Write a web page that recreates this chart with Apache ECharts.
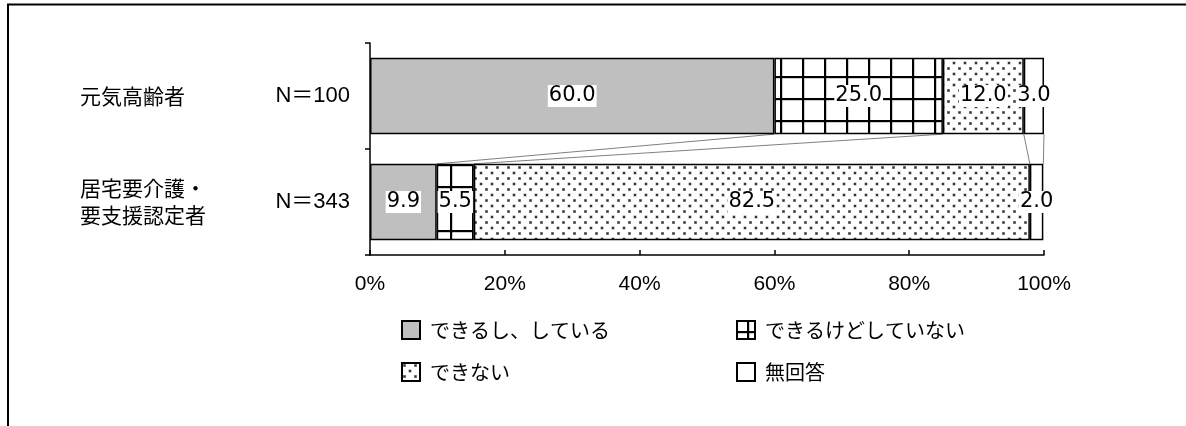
<!DOCTYPE html>
<html>
<head>
<meta charset="utf-8">
<script src="https://cdn.jsdelivr.net/npm/echarts@6/dist/echarts.min.js"></script>
<style>
  html, body { margin: 0; padding: 0; background: #fff; }
  #main { width: 1186px; height: 426px; }
</style>
</head>
<body>
<div id="main"></div>
<script>
var categories = ['元気高齢者', '居宅要介護・\n要支援認定者'];
var nLabels = ['N＝100', 'N＝343'];
var seriesNames = ['できるし、している', 'できるけどしていない', 'できない', '無回答'];
var doing = [60.0, 9.9];
var canButNot = [25.0, 5.5];
var cannot = [12.0, 82.5];
var noAnswer = [3.0, 2.0];
var xTicks = [0, 20, 40, 60, 80, 100];

var JP = '"Noto Sans CJK JP", sans-serif';
var NUM = '"DejaVu Sans", sans-serif';
var AX = '"Liberation Sans", "Noto Sans CJK JP", sans-serif';

function gridPattern() {
    var c = document.createElement('canvas');
    c.width = 22; c.height = 22;
    var ctx = c.getContext('2d');
    ctx.fillStyle = '#fff';
    ctx.fillRect(0, 0, 22, 22);
    ctx.fillStyle = '#000';
    ctx.fillRect(10, 0, 2.2, 22);
    ctx.fillRect(0, 10, 22, 2.2);
    return c;
}

function dotPattern() {
    var c = document.createElement('canvas');
    c.width = 11; c.height = 11;
    var ctx = c.getContext('2d');
    ctx.fillStyle = '#fff';
    ctx.fillRect(0, 0, 11, 11);
    ctx.fillStyle = '#9a9a9a';
    ctx.fillRect(1, 1, 3, 3);
    ctx.fillRect(6.5, 6.5, 3, 3);
    ctx.fillStyle = '#333';
    ctx.fillRect(1.5, 1.5, 2, 2);
    ctx.fillRect(7, 7, 2, 2);
    return c;
}

var myChart = echarts.init(document.getElementById('main'));

var fills = [
    '#bfbfbf',
    { image: gridPattern(), repeat: 'repeat' },
    { image: dotPattern(), repeat: 'repeat' },
    '#ffffff'
];
var values = [doing, canButNot, cannot, noAnswer];
var BAR_RATIO = 0.72;

var barSeries = values.map(function (arr, i) {
    return {
        name: seriesNames[i],
        type: 'bar',
        stack: 'total',
        barWidth: (BAR_RATIO * 100) + '%',
        data: arr,
        itemStyle: { color: fills[i], borderColor: '#000', borderWidth: 1.5 },
        label: {
            show: true,
            position: 'inside',
            formatter: function (p) { return p.value.toFixed(1); },
            color: '#000',
            fontSize: 21,
            fontFamily: NUM,
            backgroundColor: '#fff',
            padding: [1, 1, 0, 1]
        }
    };
});

// connector lines between the two bars
function cumulative(idx) {
    var out = [], s = 0;
    for (var i = 0; i < values.length; i++) {
        s += values[i][idx];
        out.push(s);
    }
    return out;
}

var connector = {
    type: 'custom',
    silent: true,
    data: [[0, 0]],
    z: 1,
    renderItem: function (params, api) {
        var band = api.size([0, 1])[1];
        var half = band * BAR_RATIO / 2;
        var top = cumulative(0), bot = cumulative(1);
        var children = [];
        for (var i = 0; i < top.length; i++) {
            var p1 = api.coord([top[i], 0]);
            var p2 = api.coord([bot[i], 1]);
            children.push({
                type: 'line',
                shape: { x1: p1[0], y1: p1[1] + half, x2: p2[0], y2: p2[1] - half },
                style: { stroke: '#808080', lineWidth: 1 }
            });
        }
        return { type: 'group', children: children };
    }
};

var legendText = { color: '#000', fontSize: 20, fontFamily: JP, lineHeight: 22, padding: [0, 0, 0, 5] };

var option = {
    animation: false,
    backgroundColor: '#fff',
    grid: { left: 370, right: 142, top: 43, bottom: 171 },
    xAxis: {
        type: 'value',
        min: xTicks[0],
        max: xTicks[xTicks.length - 1],
        interval: 20,
        axisLine: { show: true, lineStyle: { color: '#000', width: 1.5 } },
        axisTick: { show: true, inside: true, length: 5, lineStyle: { color: '#000', width: 1.5 } },
        splitLine: { show: false },
        axisLabel: {
            formatter: '{value}%',
            color: '#000',
            fontSize: 21,
            fontFamily: AX,
            margin: 19
        }
    },
    yAxis: [{
        type: 'category',
        inverse: true,
        data: nLabels,
        axisLine: { show: true, lineStyle: { color: '#000', width: 1.5 } },
        axisTick: { show: true, length: 5, lineStyle: { color: '#000', width: 1.5 } },
        axisLabel: { color: '#000', fontSize: 22, fontFamily: AX, margin: 20 }
    }, {
        type: 'category',
        inverse: true,
        position: 'left',
        data: categories,
        axisLine: { show: false },
        axisTick: { show: false },
        axisLabel: {
            color: '#000', fontSize: 21, fontFamily: JP,
            align: 'left', margin: 290, lineHeight: 27,
            padding: [4, 0, 0, 0]
        }
    }],
    legend: [{
        orient: 'vertical',
        left: 396,
        top: 314,
        itemWidth: 18,
        itemHeight: 18,
        itemGap: 20,
        icon: 'rect',
        data: [seriesNames[0], seriesNames[2]],
        textStyle: legendText
    }, {
        orient: 'vertical',
        left: 731,
        top: 314,
        itemWidth: 18,
        itemHeight: 18,
        itemGap: 20,
        icon: 'rect',
        data: [seriesNames[1], seriesNames[3]],
        textStyle: legendText
    }],
    graphic: [{
        type: 'polyline',
        shape: { points: [[8, 426], [8, 4.5], [1186, 4.5]] },
        style: { stroke: '#000', lineWidth: 2, fill: null }
    }],
    series: barSeries.concat([connector])
};

option && myChart.setOption(option);
</script>
</body>
</html>
